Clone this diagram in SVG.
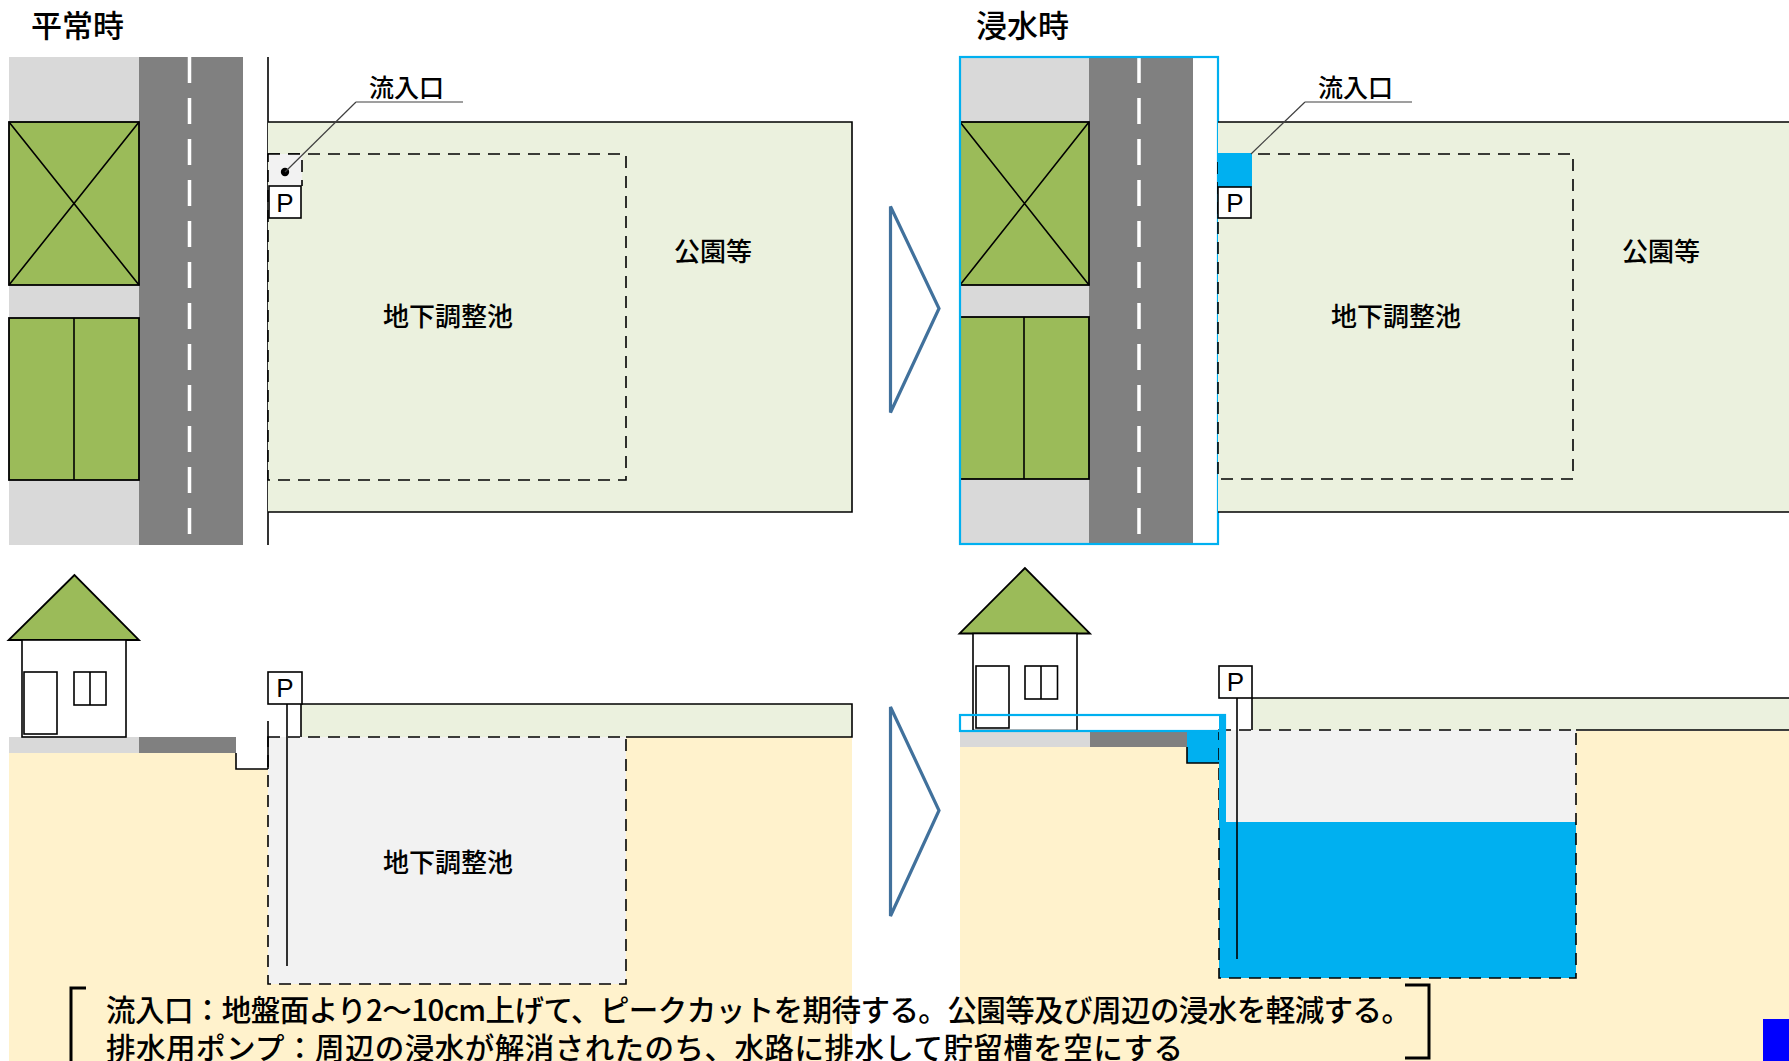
<svg xmlns="http://www.w3.org/2000/svg" width="1789" height="1061" viewBox="0 0 1789 1061">
  <style>
    .ln{stroke:#000;stroke-width:1.6;fill:none}
    .dash{stroke:#000;stroke-width:1.6;stroke-dasharray:12 8;fill:none}
    .jp{font-family:"Noto Sans CJK JP","Noto Sans CJK SC",sans-serif;fill:#000;font-weight:500}
    .pl{font-family:"Liberation Sans",Arial,sans-serif;font-size:26px;fill:#000;text-anchor:middle}
    .walk{fill:#d9d9d9}
    .road{fill:#808080}
    .cl{stroke:#fff;stroke-width:3.5;stroke-dasharray:26 15;fill:none}
    .bld{fill:#9bbb59;stroke:#000;stroke-width:1.8}
    .park{fill:#ebf1de}
    .tank{fill:#f2f2f2}
    .soil{fill:#fff2cc}
    .water{fill:#00b0f0}
    .chev{fill:#fff;stroke:#41719c;stroke-width:3.2;stroke-linejoin:miter}
    .lead{stroke:#404040;stroke-width:1.2;fill:none}
    .hlead{stroke:#7f7f7f;stroke-width:1.4;fill:none}
  </style>

  <rect width="1789" height="1061" fill="#fff"/>

  <!-- titles -->
  <text id="title-normal" class="jp" x="31" y="37" font-size="31">平常時</text>
  <text id="title-flood" class="jp" x="976" y="37" font-size="31">浸水時</text>

  <!-- ===== plan view, normal ===== -->
  <g id="plan-normal">
    <rect class="walk" x="9" y="57" width="130" height="488"/>
    <rect class="road" x="139" y="57" width="104" height="488"/>
    <line class="cl" x1="189.5" y1="57" x2="189.5" y2="545"/>
    <g id="bldg-a1">
      <rect class="bld" x="9" y="122" width="130" height="163"/>
      <path class="ln" d="M9 122L139 285M139 122L9 285"/>
    </g>
    <g id="bldg-a2">
      <rect class="bld" x="9" y="318" width="130" height="162"/>
      <line class="ln" x1="74" y1="318" x2="74" y2="480"/>
    </g>
    <line class="ln" x1="268" y1="57" x2="268" y2="545"/>
    <g id="park-a">
      <path class="park" d="M268 122H852V512H268Z"/>
      <path class="ln" d="M268 122H852V512H268"/>
      <text class="jp" x="713" y="261" font-size="26" text-anchor="middle">公園等</text>
    </g>
    <g id="pond-a">
      <rect class="dash" x="268" y="154" width="358" height="326"/>
      <text class="jp" x="448" y="326" font-size="26" text-anchor="middle">地下調整池</text>
    </g>
    <g id="inlet-a">
      <rect class="tank" x="269" y="154" width="33" height="32"/>
      <path class="dash" d="M268 154H302V186" />
      <circle cx="285" cy="172" r="4.2" fill="#000"/>
    </g>
    <g id="pump-a">
      <rect x="269" y="186" width="32" height="32" fill="#fff" stroke="#000" stroke-width="1.6"/>
      <text class="pl" x="285" y="212">P</text>
    </g>
    <g id="label-inlet-a">
      <path class="lead" d="M285 172L356 102"/>
      <path class="hlead" d="M356 102H463"/>
      <text class="jp" x="369" y="97" font-size="25">流入口</text>
    </g>
  </g>

  <!-- ===== plan view, flooded ===== -->
  <g id="plan-flood">
    <rect class="walk" x="960" y="57" width="129" height="487"/>
    <rect class="road" x="1089" y="57" width="104" height="487"/>
    <rect x="1193" y="57" width="25" height="487" fill="#fff"/>
    <line class="cl" x1="1139" y1="57" x2="1139" y2="544"/>
    <g id="bldg-b1">
      <rect class="bld" x="960" y="122" width="129" height="163"/>
      <path class="ln" d="M960 122L1089 285M1089 122L960 285"/>
    </g>
    <g id="bldg-b2">
      <rect class="bld" x="960" y="317" width="129" height="162"/>
      <line class="ln" x1="1024" y1="317" x2="1024" y2="479"/>
    </g>
    <rect x="960" y="57" width="258" height="487" fill="none" stroke="#00b0f0" stroke-width="2.2"/>
    <g id="park-b">
      <path class="park" d="M1218 122H1789V512H1218Z"/>
      <path class="ln" d="M1789 122H1218M1218 512H1789"/>
      <text class="jp" x="1661" y="261" font-size="26" text-anchor="middle">公園等</text>
    </g>
    <g id="pond-b">
      <rect class="dash" x="1218" y="154" width="355" height="325"/>
      <text class="jp" x="1396" y="326" font-size="26" text-anchor="middle">地下調整池</text>
    </g>
    <g id="inlet-b">
      <rect class="water" x="1218" y="153" width="34" height="34"/>
    </g>
    <g id="pump-b">
      <rect x="1218" y="187" width="33" height="31" fill="#fff" stroke="#000" stroke-width="1.6"/>
      <text class="pl" x="1235" y="212">P</text>
    </g>
    <g id="label-inlet-b">
      <path class="lead" d="M1251 154L1305 102"/>
      <path class="hlead" d="M1305 102H1412"/>
      <text class="jp" x="1318" y="97" font-size="25">流入口</text>
    </g>
  </g>

  <!-- ===== section, normal ===== -->
  <g id="section-normal">
    <path class="soil" d="M9 753H236V769H268V737H852V1061H9Z"/>
    <rect class="walk" x="9" y="737" width="130" height="16"/>
    <rect class="road" x="139" y="737" width="97" height="16"/>
    <path class="ln" d="M236 753V769H268"/>
    <g id="house-a">
      <polygon class="bld" points="74.5,575 8.6,640 139,640"/>
      <rect x="22" y="640" width="104" height="97" fill="#fff" stroke="#000" stroke-width="1.6"/>
      <rect x="24" y="672" width="33" height="62" fill="#fff" stroke="#000" stroke-width="1.6"/>
      <rect x="74" y="672" width="32" height="33" fill="#fff" stroke="#000" stroke-width="1.6"/>
      <line class="ln" x1="90" y1="672" x2="90" y2="705"/>
    </g>
    <g id="park-strip-a">
      <rect class="park" x="301" y="704" width="551" height="33"/>
      <path class="ln" d="M301 737V704H852V737H626"/>
    </g>
    <g id="tank-a">
      <rect class="tank" x="268" y="737" width="358" height="247"/>
      <rect class="dash" x="268" y="737" width="358" height="247"/>
      <text class="jp" x="448" y="872" font-size="26" text-anchor="middle">地下調整池</text>
    </g>
    <line class="ln" x1="268" y1="721" x2="268" y2="769"/>
    <g id="pump-a-sec">
      <line class="ln" x1="287" y1="704" x2="287" y2="966"/>
      <rect x="268" y="672" width="34" height="32" fill="#fff" stroke="#000" stroke-width="1.6"/>
      <text class="pl" x="285" y="697">P</text>
    </g>
  </g>

  <!-- ===== section, flooded ===== -->
  <g id="section-flood">
    <path class="soil" d="M960 747H1187V763H1219V731H1789V1061H960Z"/>
    <rect class="walk" x="960" y="731" width="130" height="16"/>
    <rect class="road" x="1090" y="731" width="97" height="16"/>
    <rect class="water" x="1187" y="731" width="32" height="32"/>
    <path class="ln" d="M1187 747V763H1219"/>
    <g id="house-b">
      <polygon class="bld" points="1025,568 959.5,633.5 1090,633.5"/>
      <rect x="973" y="633.5" width="104" height="97" fill="#fff" stroke="#000" stroke-width="1.6"/>
      <rect x="976" y="666" width="33" height="62" fill="#fff" stroke="#000" stroke-width="1.6"/>
      <rect x="1025" y="666" width="32.5" height="33" fill="#fff" stroke="#000" stroke-width="1.6"/>
      <line class="ln" x1="1041" y1="666" x2="1041" y2="699"/>
    </g>
    <g id="park-strip-b">
      <rect class="park" x="1252" y="698" width="537" height="32"/>
      <path class="ln" d="M1252 730V698H1789M1789 730H1576"/>
    </g>
    <g id="tank-b">
      <rect class="tank" x="1219" y="730" width="357" height="248"/>
      <rect class="water" x="1219" y="822" width="357" height="156"/>
      <rect class="dash" x="1219" y="730" width="357" height="248"/>
    </g>
    <rect class="water" x="1219" y="715" width="7" height="107"/>
    <rect id="flood-line" x="960" y="715" width="265" height="16" fill="none" stroke="#00b0f0" stroke-width="2.2"/>
    <g id="pump-b-sec">
      <line class="ln" x1="1237" y1="698" x2="1237" y2="959"/>
      <rect x="1219" y="666" width="33" height="32" fill="#fff" stroke="#000" stroke-width="1.6"/>
      <text class="pl" x="1235.5" y="691">P</text>
    </g>
  </g>

  <!-- transition arrows -->
  <g id="arrow-top"><polygon class="chev" points="890.5,206.5 939,308.5 890.5,412.5"/></g>
  <g id="arrow-bottom"><polygon class="chev" points="890.5,707 939,810.5 890.5,916"/></g>

  <!-- notes -->
  <g id="notes">
    <path d="M86 988H71V1066" fill="none" stroke="#000" stroke-width="3"/>
    <path d="M1405 985H1429V1058H1405" fill="none" stroke="#000" stroke-width="3"/>
    <text class="jp" x="106" y="1021" font-size="29.5" font-weight="400" textLength="1305" lengthAdjust="spacing">流入口：地盤面より2～10cm上げて、ピークカットを期待する。公園等及び周辺の浸水を軽減する。</text>
    <text class="jp" x="106" y="1059" font-size="29.5" font-weight="400" textLength="1077" lengthAdjust="spacing">排水用ポンプ：周辺の浸水が解消されたのち、水路に排水して貯留槽を空にする</text>
  </g>

  <rect id="corner-mark" x="1763" y="1019" width="26" height="42" fill="#0000ff"/>
</svg>
